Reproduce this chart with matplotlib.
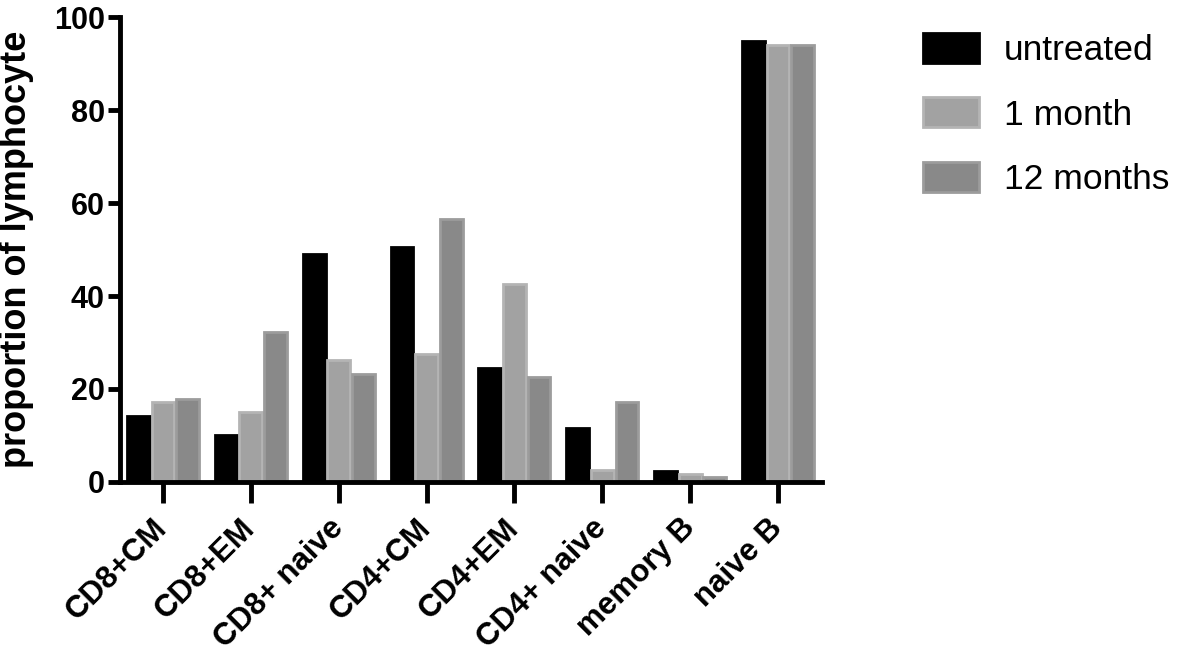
import matplotlib.pyplot as plt
import numpy as np

plt.rcParams['font.family'] = ['Liberation Sans', 'DejaVu Sans']

categories = ['CD8+CM', 'CD8+EM', 'CD8+ naive', 'CD4+CM', 'CD4+EM',
              'CD4+ naive', 'memory B', 'naive B']
untreated = [14.2, 10.0, 49.0, 50.5, 24.5, 11.5, 2.3, 94.8]
one_month = [17.2, 15.0, 26.2, 27.5, 42.5, 2.5, 1.8, 94.0]
twelve_months = [17.9, 32.3, 23.2, 56.5, 22.5, 17.2, 1.0, 94.0]

series = [
    ('untreated', untreated, '#000000', '#000000'),
    ('1 month', one_month, '#a2a2a2', '#b4b4b4'),
    ('12 months', twelve_months, '#898989', '#9c9c9c'),
]

fig = plt.figure(figsize=(11.81, 6.62), dpi=100)
ax = fig.add_axes([0.1016, 0.272, 0.5944, 0.702])

x = np.arange(len(categories))
w = 0.26
for i, (label, vals, fc, ec) in enumerate(series):
    ax.bar(x + (i - 1) * (w + 0.02), vals, width=w, color=fc,
           edgecolor=ec, linewidth=2, label=label)

ax.set_xlim(-0.49, 7.5)
ax.set_ylim(0, 100)
ax.set_yticks([0, 20, 40, 60, 80, 100])
ax.set_xticks(x)
ax.set_xticklabels(categories, rotation=45, ha='right', va='center',
                   rotation_mode='anchor', fontsize=22.5, fontweight='bold')
for lbl in ax.get_yticklabels():
    lbl.set_fontsize(22)
    lbl.set_fontweight('bold')
ax.set_ylabel('proportion of lymphocyte', fontsize=26, fontweight='bold',
              labelpad=14)

for s in ['top', 'right']:
    ax.spines[s].set_visible(False)
for s in ['left', 'bottom']:
    ax.spines[s].set_linewidth(3.5)
ax.tick_params(axis='y', width=3.5, length=9, pad=2)
ax.tick_params(axis='x', width=3.5, length=15, pad=15)

ax.legend(loc='upper left', bbox_to_anchor=(1.108, 1.02), frameon=False,
          fontsize=25.5, handlelength=1.6, handleheight=0.93,
          labelspacing=0.86, handletextpad=0.7, borderpad=0.2)

plt.savefig('out.png', dpi=100)
